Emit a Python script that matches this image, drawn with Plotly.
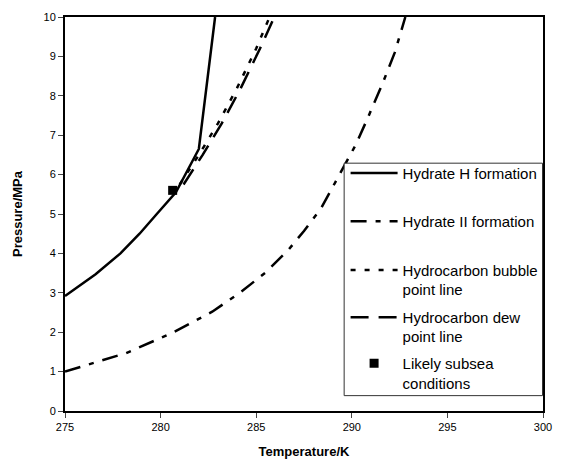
import plotly.graph_objects as go

# Data
hyd_h_T = [275.0, 276.6, 277.9, 278.9, 279.8, 280.8, 282.0, 282.85]
hyd_h_P = [2.92, 3.47, 4.0, 4.5, 5.0, 5.55, 6.65, 10.0]

hyd_ii_T = [275.0, 278.2, 280.6, 282.7, 284.2, 285.5, 286.7, 287.5, 288.4, 289.4, 290.2, 290.8, 291.6, 292.25, 292.8]
hyd_ii_P = [1.0, 1.47, 1.98, 2.52, 3.02, 3.52, 4.1, 4.57, 5.15, 6.02, 6.75, 7.4, 8.3, 9.1, 10.0]

bubble_T = [281.0, 282.0, 283.0, 284.0, 285.0, 285.7]
bubble_P = [5.75, 6.5, 7.3, 8.2, 9.2, 10.0]

dew_T = [281.2, 282.2, 283.2, 284.2, 285.2, 285.95]
dew_P = [5.75, 6.5, 7.3, 8.2, 9.2, 10.0]

subsea_T = [280.63]
subsea_P = [5.6]

x_ticks = [275, 280, 285, 290, 295, 300]
y_ticks = [0, 1, 2, 3, 4, 5, 6, 7, 8, 9, 10]

FONT = "Arial, Liberation Sans, sans-serif"

fig = go.Figure()
fig.add_trace(go.Scatter(x=hyd_h_T, y=hyd_h_P, mode="lines", name="Hydrate H formation",
                         line=dict(color="black", width=2.5), legend="legend"))
fig.add_trace(go.Scatter(x=hyd_ii_T, y=hyd_ii_P, mode="lines", name="Hydrate II formation",
                         line=dict(color="black", width=2.5, dash="16px,9px,5px,9px"), legend="legend2"))
fig.add_trace(go.Scatter(x=bubble_T, y=bubble_P, mode="lines", name="Hydrocarbon bubble<br>point line",
                         line=dict(color="black", width=2.5, dash="5px,9px"), legend="legend3"))
fig.add_trace(go.Scatter(x=dew_T, y=dew_P, mode="lines", name="Hydrocarbon dew<br>point line",
                         line=dict(color="black", width=2.5, dash="18px,10px"), legend="legend4"))
fig.add_trace(go.Scatter(x=subsea_T, y=subsea_P, mode="markers", name="Likely subsea<br>conditions",
                         marker=dict(color="black", symbol="square", size=9), legend="legend5"))

# Legend frame
fig.add_shape(type="rect", xref="paper", yref="paper", x0=0.584, x1=0.999, y0=0.039, y1=0.629,
              line=dict(color="#333", width=1), fillcolor="white", layer="above")

def leg(y):
    return dict(x=0.587, y=y, xanchor="left", yanchor="top", xref="paper", yref="paper",
                bgcolor="rgba(0,0,0,0)", borderwidth=0, itemwidth=47, valign="top",
                font=dict(family=FONT, size=15, color="black"), tracegroupgap=0)

fig.update_layout(
    width=563, height=472,
    margin=dict(l=65, r=17, t=11, b=61),
    paper_bgcolor="white", plot_bgcolor="white",
    font=dict(family=FONT, size=11, color="black"),
    showlegend=True,
    legend=leg(0.645),
    legend2=leg(0.523),
    legend3=leg(0.399),
    legend4=leg(0.2795),
    legend5=leg(0.1625),
)
fig.update_xaxes(range=[275, 300], tickvals=x_ticks, ticks="outside", ticklen=5, tickwidth=1,
                 showline=True, linecolor="black", linewidth=2, mirror=True, showgrid=False, zeroline=False,
                 title=dict(text="<b>Temperature/K</b>", font=dict(size=13, family=FONT), standoff=15))
fig.update_yaxes(range=[0, 10], tickvals=y_ticks, ticks="outside", ticklen=5, tickwidth=1,
                 showline=True, linecolor="black", linewidth=2, mirror=True, showgrid=False, zeroline=False,
                 title=dict(text="<b>Pressure/MPa</b>", font=dict(size=13, family=FONT), standoff=18))

fig.write_html("out.html")
